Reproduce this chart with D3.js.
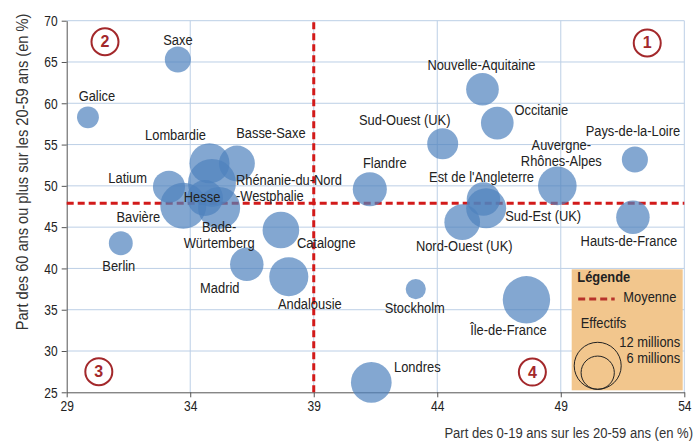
<!DOCTYPE html>
<html>
<head>
<meta charset="utf-8">
<script src="https://cdn.jsdelivr.net/npm/d3@7"></script>
<style>
  body { margin: 0; background: #fff; }
  text { font-family: "Liberation Sans Narrow", "Liberation Sans", Arial, sans-serif; fill: #222; }
</style>
</head>
<body>
<div id="chart"></div>
<script>
// data
var regions = ["Saxe", "Galice", "Lombardie", "Basse-Saxe", "Latium", "Rhénanie-du-Nord-Westphalie",
  "Hesse", "Bavière", "Bade-Würtemberg", "Catalogne", "Madrid", "Andalousie", "Berlin",
  "Flandre", "Sud-Ouest (UK)", "Nouvelle-Aquitaine", "Occitanie", "Pays-de-la-Loire",
  "Auvergne-Rhônes-Alpes", "Est de l'Angleterre", "Sud-Est (UK)", "Hauts-de-France",
  "Nord-Ouest (UK)", "Stockholm", "Île-de-France", "Londres"];
var jeunes = [33.5, 29.86, 34.78, 35.89, 33.14, 34.88, 34.6, 33.72, 35.17, 37.67, 36.29, 37.99, 31.19,
  41.27, 44.22, 45.83, 46.43, 52.0, 48.86, 45.87, 45.98, 51.92, 45.01, 43.13, 47.61, 41.33];
var seniors = [65.3, 58.3, 52.74, 52.71, 49.9, 50.35, 48.53, 47.6, 47.33, 44.65, 40.5, 39.0, 43.05,
  49.6, 55.1, 61.7, 57.6, 53.2, 50.0, 48.4, 47.3, 46.2, 45.6, 37.5, 36.2, 26.2];
var effectifs = [3.7, 2.6, 8.7, 7.0, 5.6, 12.5, 7.0, 11.5, 9.6, 7.3, 6.1, 8.3, 3.1,
  6.3, 5.2, 5.8, 5.8, 3.7, 8.1, 6.1, 8.7, 6.1, 6.9, 2.2, 12.2, 9.0];

var xTicks = [29, 34, 39, 44, 49, 54];
var yTicks = [25, 30, 35, 40, 45, 50, 55, 60, 65, 70];
var moyenneX = 39;
var moyenneY = 47.9;
var legendSizes = [12, 6];

var quadNums = ["1", "2", "3", "4"];
var quadX = [52.5, 30.55, 30.3, 47.85];
var quadY = [67.3, 67.45, 27.5, 27.45];

// label placement: lines, dx, dy (px from circle centre), anchor
var labels = [
  [["Saxe"], 0, -15, "middle"],
  [["Galice"], 9, -16, "middle"],
  [["Lombardie"], -34, -23, "middle"],
  [["Basse-Saxe"], 34, -25, "middle"],
  [["Latium"], -22, -4, "end"],
  [["Rhénanie-du-Nord", "-Westphalie"], 24, 2, "start"],
  [["Hesse"], -3, 4, "middle"],
  [["Bavière"], -45, 16, "middle"],
  [["Bade-", "Würtemberg"], 0, 24, "middle"],
  [["Catalogne"], 16, 18, "start"],
  [["Madrid"], -27, 29, "middle"],
  [["Andalousie"], 21, 32, "middle"],
  [["Berlin"], -2, 28, "middle"],
  [["Flandre"], 15, -21, "middle"],
  [["Sud-Ouest (UK)"], -38, -19, "middle"],
  [["Nouvelle-Aquitaine"], -1, -19, "middle"],
  [["Occitanie"], 44, -8, "middle"],
  [["Pays-de-la-Loire"], -2, -23, "middle"],
  [["Auvergne-", "Rhônes-Alpes"], 4, -36, "middle"],
  [["Est de l'Angleterre"], -2, -17, "middle"],
  [["Sud-Est (UK)"], 57, 13, "middle"],
  [["Hauts-de-France"], -4, 29, "middle"],
  [["Nord-Ouest (UK)"], 2, 29, "middle"],
  [["Stockholm"], -1, 24, "middle"],
  [["Île-de-France"], -18, 35, "middle"],
  [["Londres"], 46, -10, "middle"]
];

var svgWidth = 695;
var svgHeight = 441;

var margin = {
  top: 20.7,
  right: 10.7,
  bottom: 48.7,
  left: 66.7
};

var width = svgWidth - margin.left - margin.right;
var height = svgHeight - margin.top - margin.bottom;

// the original uses a narrow font, squeeze text horizontally
var squeeze = 0.86;

var svg = d3.select("#chart")
  .append("svg")
  .attr("width", svgWidth)
  .attr("height", svgHeight);

var chartGroup = svg.append("g")
  .attr("transform", `translate(${margin.left}, ${margin.top})`);

var xScale = d3.scaleLinear().domain([29, 54]).range([0, width]);
var yScale = d3.scaleLinear().domain([25, 70]).range([height, 0]);
var rScale = d3.scaleSqrt().domain([0, 12]).range([0, 23.5]);

var gridColor = "#bccfe6";
var red = "#d21a1a";
var darkRed = "#a3282b";

function narrowText(parent, x, y, size, sx) {
  return parent.append("text")
    .attr("transform", `translate(${x}, ${y}) scale(${sx || squeeze}, 1)`)
    .style("font-size", size + "px");
}

// grid
chartGroup.append("g").selectAll("line")
  .data(yTicks.filter(d => d > 25))
  .enter()
  .append("line")
  .attr("x1", 0)
  .attr("x2", width)
  .attr("y1", d => yScale(d))
  .attr("y2", d => yScale(d))
  .attr("stroke", gridColor)
  .attr("stroke-width", 1);

chartGroup.append("g").selectAll("line")
  .data(xTicks.filter(d => d > 29))
  .enter()
  .append("line")
  .attr("x1", d => xScale(d))
  .attr("x2", d => xScale(d))
  .attr("y1", 0)
  .attr("y2", height)
  .attr("stroke", gridColor)
  .attr("stroke-width", 1);

// axes
var bottomAxis = d3.axisBottom(xScale).tickValues(xTicks).tickSizeInner(5).tickSizeOuter(0).tickPadding(4);
var leftAxis = d3.axisLeft(yScale).tickValues(yTicks).tickSizeInner(5).tickSizeOuter(0).tickPadding(3);

var xAxis = chartGroup.append("g")
  .attr("transform", `translate(0, ${height})`)
  .call(bottomAxis);

var yAxis = chartGroup.append("g")
  .call(leftAxis);

[xAxis, yAxis].forEach(function(a) {
  a.selectAll("path, line").attr("stroke", "#555");
  a.selectAll("text")
    .style("font-size", "15px")
    .style("font-family", "'Liberation Sans Narrow', 'Liberation Sans', Arial, sans-serif")
    .attr("fill", "#333");
});
xAxis.selectAll(".tick text")
  .attr("transform", "scale(0.8, 1)")
  .attr("y", 8)
  .attr("dy", "0.71em");
yAxis.selectAll(".tick text")
  .attr("transform", "translate(-9, 0) scale(0.8, 1)")
  .attr("x", 0);

// mean lines
chartGroup.append("line")
  .attr("x1", xScale(29))
  .attr("x2", xScale(54))
  .attr("y1", yScale(moyenneY))
  .attr("y2", yScale(moyenneY))
  .attr("stroke", red)
  .attr("stroke-width", 3)
  .attr("stroke-dasharray", "7,4");

chartGroup.append("line")
  .attr("x1", xScale(moyenneX))
  .attr("x2", xScale(moyenneX))
  .attr("y1", yScale(25))
  .attr("y2", yScale(70))
  .attr("stroke", red)
  .attr("stroke-width", 3)
  .attr("stroke-dasharray", "7,4");

// bubbles
var idx = d3.range(regions.length);

chartGroup.append("g").selectAll("circle")
  .data(idx)
  .enter()
  .append("circle")
  .attr("cx", i => xScale(jeunes[i]))
  .attr("cy", i => yScale(seniors[i]))
  .attr("r", i => rScale(effectifs[i]))
  .attr("fill", "#4f81bd")
  .attr("fill-opacity", 0.7);

// labels
var labelGroup = chartGroup.append("g");
idx.forEach(function(i) {
  var lab = labels[i];
  var t = narrowText(labelGroup, xScale(jeunes[i]) + lab[1], yScale(seniors[i]) + lab[2], 15)
    .attr("text-anchor", lab[3]);
  lab[0].forEach(function(line, k) {
    t.append("tspan")
      .attr("x", 0)
      .attr("dy", k === 0 ? 0 : 16.5)
      .text(line);
  });
});

// quadrant numbers
var quads = chartGroup.append("g").selectAll("g")
  .data(quadNums)
  .enter()
  .append("g")
  .attr("transform", (d, i) => `translate(${xScale(quadX[i])}, ${yScale(quadY[i])})`);

quads.append("circle")
  .attr("r", 13.5)
  .attr("fill", "#fff")
  .attr("stroke", darkRed)
  .attr("stroke-width", 2);

quads.append("text")
  .attr("text-anchor", "middle")
  .attr("dy", 5.5)
  .style("font-size", "16px")
  .style("font-weight", "bold")
  .style("fill", darkRed)
  .text(d => d);

// axis titles
narrowText(svg, 693, 438, 15, 0.87)
  .attr("text-anchor", "end")
  .style("fill", "#333")
  .text("Part des 0-19 ans sur les 20-59 ans (en %)");

svg.append("text")
  .attr("transform", "translate(28, 172) rotate(-90) scale(0.87, 1)")
  .attr("text-anchor", "middle")
  .style("font-size", "16.8px")
  .style("fill", "#333")
  .text("Part des 60 ans ou plus sur les 20-59 ans (en %)");

// legend
var legend = svg.append("g")
  .attr("transform", "translate(571.7, 269.3)");

legend.append("rect")
  .attr("width", 111)
  .attr("height", 121)
  .attr("fill", "#f2c68d");

narrowText(legend, 5.6, 12.4, 15)
  .style("font-weight", "bold")
  .text("Légende");

legend.append("line")
  .attr("x1", 6.5)
  .attr("x2", 43)
  .attr("y1", 29.7)
  .attr("y2", 29.7)
  .attr("stroke", "#b8322a")
  .attr("stroke-width", 3)
  .attr("stroke-dasharray", "7,4");

narrowText(legend, 51.6, 32.4, 15)
  .text("Moyenne");

narrowText(legend, 9, 59, 15)
  .text("Effectifs");

legend.selectAll("circle.size")
  .data(legendSizes)
  .enter()
  .append("circle")
  .attr("class", "size")
  .attr("cx", 26)
  .attr("cy", d => 120 - rScale(d))
  .attr("r", d => rScale(d))
  .attr("fill", "none")
  .attr("stroke", "#222")
  .attr("stroke-width", 1);

legend.selectAll("g.size")
  .data(legendSizes)
  .enter()
  .append("g")
  .attr("class", "size")
  .each(function(d, i) {
    narrowText(d3.select(this), 108.5, 77.4 + i * 16.6, 15)
      .attr("text-anchor", "end")
      .text(d + " millions");
  });
</script>
</body>
</html>
